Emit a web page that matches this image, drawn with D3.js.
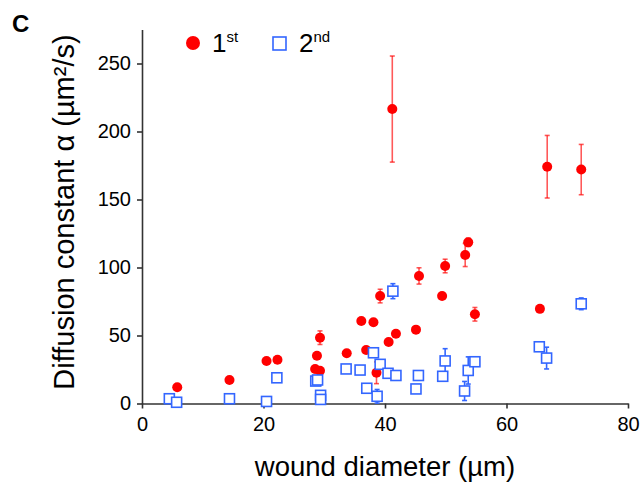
<!DOCTYPE html>
<html>
<head>
<script src="https://cdn.jsdelivr.net/npm/d3@7"></script>
  <meta charset="utf-8">
  <title>Wound diffusion</title>
  <style>
  body { margin: 0; background: white; }
  text { font-family: "Liberation Sans", Arial, sans-serif; fill: black; }
  .axis path, .axis line { stroke: #333; stroke-width: 1.6; }
  .axis text { font-size: 20px; }
  .err-first { stroke: #ff0000; stroke-opacity: 0.65; stroke-width: 1.6; }
  .err-second { stroke: #3366ff; stroke-width: 1.6; }
  </style>
</head>
<body>
<script type="text/javascript">

// 1st wound: diameter (um), diffusion constant (um^2/s), error
var firstX = [5.8, 14.4, 20.5, 22.3, 28.5, 28.8, 29.3, 29.3, 33.7, 36.1, 36.9, 38.1, 38.6, 39.2,
              40.6, 41.2, 41.8, 45.1, 45.6, 49.4, 49.9, 53.2, 53.7, 54.8, 65.5, 66.7, 72.3];
var firstY = [11.9, 17.3, 31.3, 32.2, 25.4, 35.1, 24.1, 48.4, 36.9, 60.7, 39.3, 59.7, 22.6, 79,
              45.2, 216.5, 51.3, 54.3, 93.8, 79, 101.1, 109.2, 118.5, 65.6, 69.6, 174.1, 172];
var firstErr = [0, 0, 0, 0, 0, 0, 0, 5, 0, 0, 0, 0, 8, 5,
                0, 39, 0, 0, 6, 0, 5, 8.5, 3, 5, 0, 23, 18.5];

// 2nd wound
var secondX = [4.5, 5.7, 14.4, 20.5, 22.2, 28.6, 28.9, 29.4, 29.4, 33.6, 35.9, 37.0, 38.1, 38.7,
               39.2, 40.5, 41.3, 41.8, 45.1, 45.5, 49.5, 49.9, 53.1, 53.7, 54.8, 65.4, 66.6, 72.3];
var secondY = [3.5, 0.9, 3.5, 1.5, 18.9, 16.5, 17.3, 6, 3, 25.4, 24.6, 11.2, 37.3, 5.3,
               28.8, 22.2, 82.6, 20.6, 10.7, 20.6, 20, 31.3, 9.2, 24.3, 30.7, 41.7, 33.4, 73.3];
var secondErr = [0, 1.5, 0, 0, 0, 0, 0, 2, 0, 0, 0, 0, 0, 5,
                 0, 0, 5.5, 0, 0, 0, 0, 9, 7, 10, 0, 0, 8, 4.3];

var xTicks = [0, 20, 40, 60, 80];
var yTicks = [0, 50, 100, 150, 200, 250];

var width = 644,
    height = 487;

var x = d3.scaleLinear().domain([0, 80]).range([142, 628]);
var y = d3.scaleLinear().domain([0, 275]).range([403.5, 29.5]);

var svg = d3.select("body").append("svg")
          .attr("width", width)
          .attr("height", height);

var first = firstX.map(function(d, i) {
  return {x: d, y: firstY[i], e: firstErr[i]};
});
var second = secondX.map(function(d, i) {
  return {x: d, y: secondY[i], e: secondErr[i]};
});

// axes
svg.append("g")
    .attr("class", "axis")
    .attr("transform", "translate(0," + y(0) + ")")
    .call(d3.axisBottom(x).tickValues(xTicks).tickSize(5).tickSizeOuter(0).tickPadding(8));

svg.append("g")
    .attr("class", "axis")
    .attr("transform", "translate(" + x(0) + ",0)")
    .call(d3.axisLeft(y).tickValues(yTicks).tickSize(5).tickSizeOuter(0).tickPadding(6));

// error bars
function errBars(data, cls) {
  var g = svg.append("g");
  var withErr = data.filter(function(d) { return d.e > 0; });
  g.selectAll("line.v").data(withErr).enter().append("line")
    .attr("class", cls)
    .attr("x1", function(d) { return x(d.x); })
    .attr("x2", function(d) { return x(d.x); })
    .attr("y1", function(d) { return y(d.y - d.e); })
    .attr("y2", function(d) { return y(d.y + d.e); });
  [1, -1].forEach(function(s) {
    g.selectAll("line.cap" + s).data(withErr).enter().append("line")
      .attr("class", cls)
      .attr("x1", function(d) { return x(d.x) - 2.5; })
      .attr("x2", function(d) { return x(d.x) + 2.5; })
      .attr("y1", function(d) { return y(d.y + s * d.e); })
      .attr("y2", function(d) { return y(d.y + s * d.e); });
  });
}

errBars(first, "err-first");

svg.append("g").selectAll("circle")
    .data(first).enter().append("circle")
    .attr("cx", function(d) { return x(d.x); })
    .attr("cy", function(d) { return y(d.y); })
    .attr("r", 5)
    .style("fill", "#ff0000");

errBars(second, "err-second");

svg.append("g").selectAll("rect")
    .data(second).enter().append("rect")
    .attr("x", function(d) { return x(d.x) - 5; })
    .attr("y", function(d) { return y(d.y) - 5; })
    .attr("width", 10)
    .attr("height", 10)
    .style("fill", "white")
    .style("stroke", "#3366ff")
    .style("stroke-width", 1.6);

// legend
svg.append("circle").attr("cx", 193).attr("cy", 43).attr("r", 7).style("fill", "#ff0000");
var l1 = svg.append("text").attr("x", 212).attr("y", 52).style("font-size", "26px");
l1.append("tspan").text("1");
l1.append("tspan").attr("dy", -10).style("font-size", "15px").text("st");

svg.append("rect").attr("x", 273).attr("y", 37).attr("width", 13).attr("height", 13)
    .style("fill", "white").style("stroke", "#3366ff").style("stroke-width", 1.6);
var l2 = svg.append("text").attr("x", 299).attr("y", 52).style("font-size", "26px");
l2.append("tspan").text("2");
l2.append("tspan").attr("dy", -10).style("font-size", "15px").text("nd");

// labels
svg.append("text")
    .attr("x", 12).attr("y", 32)
    .style("font-size", "24px").style("font-weight", "bold")
    .text("C");

svg.append("text")
    .attr("x", 385).attr("y", 476)
    .attr("text-anchor", "middle")
    .style("font-size", "27.5px")
    .text("wound diameter (µm)");

svg.append("text")
    .attr("transform", "translate(74,212) rotate(-90)")
    .attr("text-anchor", "middle")
    .style("font-size", "29px")
    .text("Diffusion constant α (µm²/s)");

</script>
</body>
</html>
